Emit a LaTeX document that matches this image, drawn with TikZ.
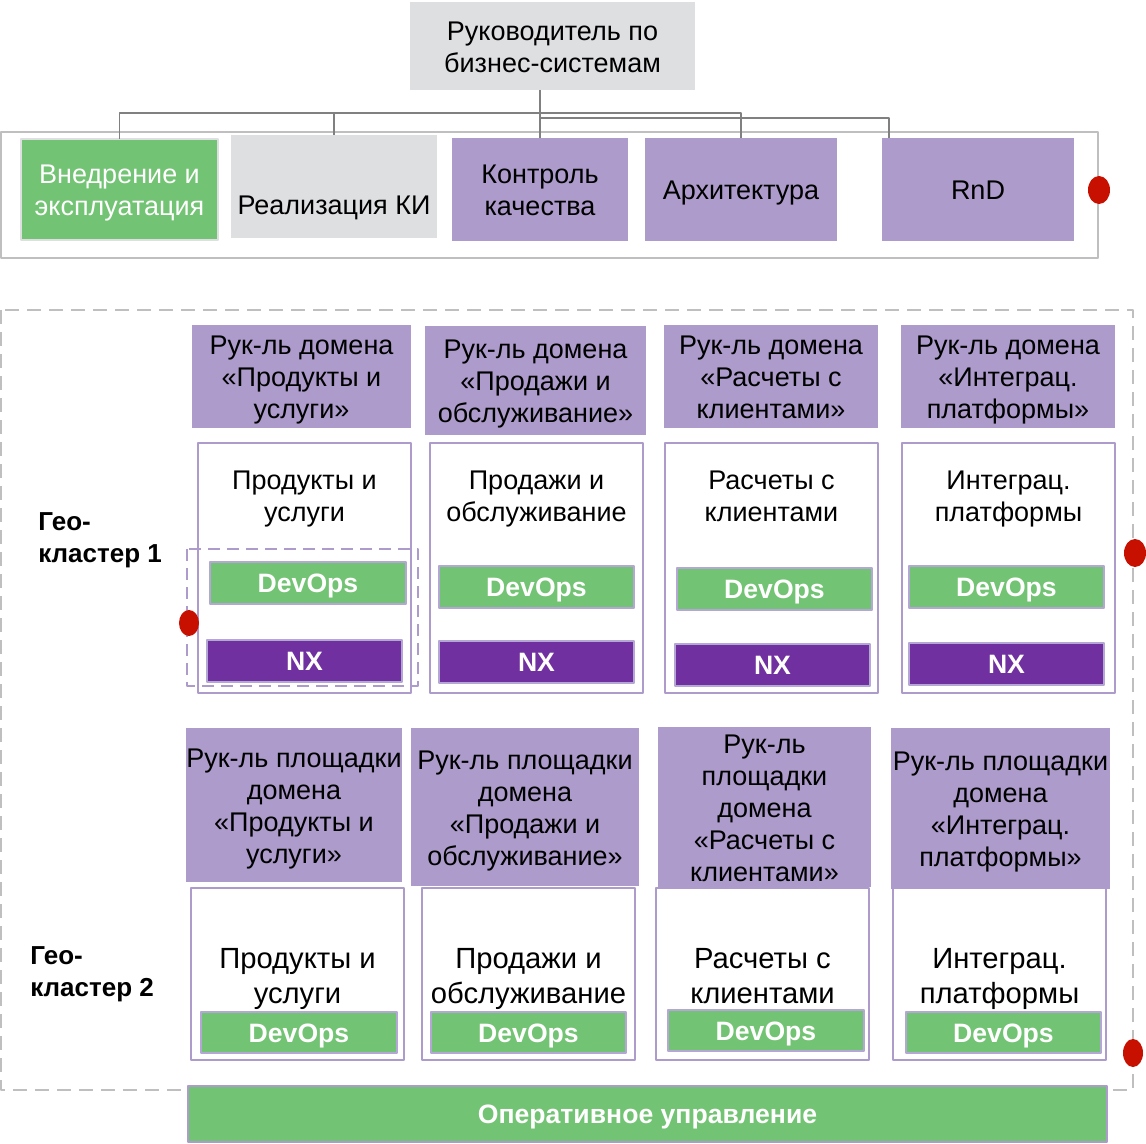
\documentclass[tikz,border=0pt]{standalone}
\usepackage{fontspec}
\setmainfont{Liberation Sans}
\definecolor{seryj}{RGB}{222,223,225}
\definecolor{ramka}{RGB}{191,191,191}
\definecolor{zel}{RGB}{114,195,115}
\definecolor{lila}{RGB}{172,155,203}
\definecolor{lilaram}{RGB}{180,167,214}
\definecolor{fiol}{RGB}{112,48,160}
\definecolor{kras}{RGB}{200,16,0}
\newcommand\ppstrut{\rule[-0.2em]{0pt}{1.15em}}
\begin{document}
\begin{tikzpicture}[x=0.5pt, y=-0.5pt, line join=round, font=\fontsize{13.5}{16}\selectfont]
	\tikzset{
		box/.style 2 args={minimum width=#1*0.5pt, minimum height=#2*0.5pt, inner sep=0pt, outer sep=0pt, align=center,
			execute at begin node=\ppstrut, execute at end node=\ppstrut},
		rukl/.style={fill=lila},
		dom/.style={draw=lila, line width=1pt, fill=white},
		dtxt/.style={align=center, execute at end node=\ppstrut},
		devops/.style={fill=zel, draw=lilaram, line width=1pt, text=white, font=\fontsize{13.3}{16}\selectfont\bfseries},
		nxbox/.style={fill=fiol, draw=lilaram, line width=1pt, text=white, font=\fontsize{13.3}{16}\selectfont\bfseries},
		geo/.style={anchor=west, align=left, inner sep=0pt, font=\fontsize{13}{16}\selectfont\bfseries},
		tochka/.style={fill=kras},
	}
	\useasboundingbox (0,0) rectangle (1146,1144);
	% верхний уровень
	\draw[ramka, line width=1pt] (1,132) rectangle (1098,258);
	\node[box={285}{88}, fill=seryj] (top) at (552.5,46) {\ppstrut Руководитель по\\бизнес-системам};
	\node[box={197}{101}, fill=zel, draw=seryj, line width=1pt, text=white] (vn) at (119.5,189.5) {\ppstrut Внедрение и\\эксплуатация};
	\node[box={206}{103}, fill=seryj, text height=30.3pt, text depth=0.2em] (rki) at (334,186.5) {Реализация КИ};
	\node[box={176}{103}, rukl] (kk) at (540,189.5) {\ppstrut Контроль\\качества};
	\node[box={192}{103}, rukl] (arch) at (741,189.5) {Архитектура};
	\node[box={192}{103}, rukl] (rnd) at (978,189.5) {RnD};
	\coordinate (shina) at (0,113);
	\coordinate (shina2) at (0,118);
	\coordinate (rndvh) at ([xshift=3.5pt]rnd.north west);
	\draw[gray, line width=0.6pt] (top.south -| kk.north) -- (kk.north);
	\draw[gray, line width=0.6pt] (vn.north) -- (vn.north |- shina) -- (arch.north |- shina) -- (arch.north);
	\draw[gray, line width=0.6pt] (rki.north) -- (rki.north |- shina);
	\draw[gray, line width=0.6pt] (kk.north |- shina2) -- (rndvh |- shina2) -- (rndvh);
	\fill[tochka] (1099,190) ellipse (11 and 14);
	% гео-кластеры
	\draw[ramka, line width=1pt, dash pattern=on 7pt off 4pt] (1,310) rectangle (1133,1090);
	\node[geo] (geo1) at (38,540) {Гео-\\кластер 1};
	\node[geo] (geo2) at (30,974) {Гео-\\кластер 2};
	% руководители доменов
	\node[box={219}{103}, rukl] (h1) at (301.5,376.5) {\ppstrut Рук-ль домена\\«Продукты и\\услуги»};
	\node[box={221}{109}, rukl] (h2) at (535.5,380.5) {\ppstrut Рук-ль домена\\«Продажи и\\обслуживание»};
	\node[box={214}{103}, rukl] (h3) at (771,376.5) {\ppstrut Рук-ль домена\\«Расчеты с\\клиентами»};
	\node[box={214}{103}, rukl] (h4) at (1008,376.5) {\ppstrut Рук-ль домена\\«Интеграц.\\платформы»};
	% домены, кластер 1
	\node[box={213}{250}, dom] (d1) at (304.5,568) {};
	\node[box={213}{250}, dom] (d2) at (536.5,568) {};
	\node[box={213}{250}, dom] (d3) at (771.5,568) {};
	\node[box={213}{250}, dom] (d4) at (1008.5,568) {};
	\node[dtxt] (t1) at (d1 |- 0,499) {Продукты и\\услуги};
	\node[dtxt] (t2) at (d2 |- 0,499) {Продажи и\\обслуживание};
	\node[dtxt] (t3) at (d3 |- 0,499) {Расчеты с\\клиентами};
	\node[dtxt] (t4) at (d4 |- 0,499) {Интеграц.\\платформы};
	\node[box={196}{42}, devops] (dv1) at (308,583) {DevOps};
	\node[box={195}{42}, devops] (dv2) at (536.5,587) {DevOps};
	\node[box={195}{42}, devops] (dv3) at (774.5,589) {DevOps};
	\node[box={195}{42}, devops] (dv4) at (1006.5,587) {DevOps};
	\node[box={195}{42}, nxbox] (nx1) at (304.5,661) {NX};
	\node[box={195}{42}, nxbox] (nx2) at (536.5,662) {NX};
	\node[box={195}{42}, nxbox] (nx3) at (772.5,665) {NX};
	\node[box={195}{42}, nxbox] (nx4) at (1006.5,664) {NX};
	\draw[lila, line width=1pt, dash pattern=on 6pt off 3.5pt] (187,549) rectangle (418,686);
	\fill[tochka] (189,623) ellipse (10 and 13);
	\fill[tochka] (1135,553) ellipse (11 and 14);
	% руководители площадок
	\node[box={214}{154}, rukl] (p1) at (294,805) {\ppstrut Рук-ль площадки\\домена\\«Продукты и\\услуги»};
	\node[box={228}{158}, rukl] (p2) at (525,807) {\ppstrut Рук-ль площадки\\домена\\«Продажи и\\обслуживание»};
	\node[box={213}{158}, rukl] (p3) at (764.5,807) {\ppstrut Рук-ль\\площадки\\домена\\«Расчеты с\\клиентами»};
	\node[box={219}{161}, rukl] (p4) at (1000.5,808.5) {\ppstrut Рук-ль площадки\\домена\\«Интеграц.\\платформы»};
	% домены, кластер 2
	\node[box={213}{172}, dom] (e1) at (297.5,974) {};
	\node[box={213}{172}, dom] (e2) at (528.5,974) {};
	\node[box={213}{172}, dom] (e3) at (762.5,974) {};
	\node[box={213}{172}, dom] (e4) at (999.5,974) {};
	\node[dtxt, font=\fontsize{14.6}{17.5}\selectfont] (s1) at (e1 |- 0,979) {Продукты и\\услуги};
	\node[dtxt, font=\fontsize{14.6}{17.5}\selectfont] (s2) at (e2 |- 0,979) {Продажи и\\обслуживание};
	\node[dtxt, font=\fontsize{14.6}{17.5}\selectfont] (s3) at (e3 |- 0,979) {Расчеты с\\клиентами};
	\node[dtxt, font=\fontsize{14.6}{17.5}\selectfont] (s4) at (e4 |- 0,979) {Интеграц.\\платформы};
	\node[box={196}{41}, devops] (f1) at (299,1032.5) {DevOps};
	\node[box={195}{41}, devops] (f2) at (528.5,1032.5) {DevOps};
	\node[box={196}{41}, devops] (f3) at (766,1030.5) {DevOps};
	\node[box={195}{41}, devops] (f4) at (1003.5,1032.5) {DevOps};
	\fill[tochka] (1133,1053) ellipse (10 and 14);
	% оперативное управление
	\node[box={919}{56}, fill=zel, draw=lila, line width=1pt, text=white, font=\fontsize{13.3}{16}\selectfont\bfseries] (oper) at (647.5,1114) {Оперативное управление};
\end{tikzpicture}
\end{document}
